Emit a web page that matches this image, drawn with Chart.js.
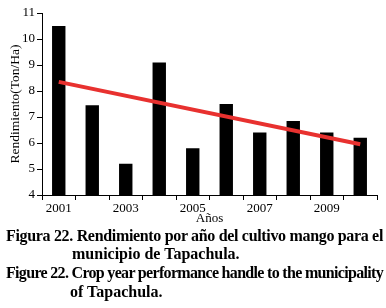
<!DOCTYPE html>
<html><head><meta charset="utf-8">
<script src="https://cdn.jsdelivr.net/npm/chart.js@4/dist/chart.umd.min.js"></script>
<style>
html,body{margin:0;padding:0;background:#fff;width:386px;height:308px;overflow:hidden;}
#wrap{position:absolute;left:0;top:0;width:386px;height:228px;}
.cap{position:absolute;font-family:"Liberation Serif","Times New Roman",serif;font-weight:bold;font-size:16px;color:#000;white-space:nowrap;line-height:18px;}
</style></head>
<body>
<div id="wrap"><canvas id="c" width="386" height="228"></canvas></div>
<div class="cap fit" id="l1" data-w="377" style="left:6px;top:227px;">Figura 22. Rendimiento por año del cultivo mango para el</div>
<div class="cap" id="l2" style="left:72px;top:245px;">municipio de Tapachula.</div>
<div class="cap fit" id="l3" data-w="377" style="left:6px;top:264px;">Figure 22. Crop year performance handle to the municipality</div>
<div class="cap" id="l4" style="left:70px;top:283px;">of Tapachula.</div>
<script>
const years = ["2001","2002","2003","2004","2005","2006","2007","2008","2009","2010"];
const yieldValues = [10.5, 7.45, 5.2, 9.1, 5.8, 7.5, 6.4, 6.85, 6.4, 6.2];
const trendValues = [8.35, null, null, null, null, null, null, null, null, 5.95];
const yTicks = [4,5,6,7,8,9,10,11];

document.querySelectorAll('.fit').forEach(el=>{
  const target = +el.dataset.w;
  const n = el.textContent.length;
  const w = el.getBoundingClientRect().width;
  el.style.letterSpacing = ((target - w) / n) + 'px';
});

const serif = '"Liberation Serif","Times New Roman",serif';
new Chart(document.getElementById('c'), {
  data: {
    labels: years,
    datasets: [
      { type:'line', data: trendValues, borderColor:'#e8312f', borderWidth:4, pointRadius:0, spanGaps:true, tension:0, order:0 },
      { type:'bar', data: yieldValues, backgroundColor:'#000', barPercentage:0.4, categoryPercentage:1.0, order:1 }
    ]
  },
  options: {
    responsive:false, animation:false,
    layout:{ padding:{ top:13, right:9, left:0, bottom:0 } },
    plugins:{ legend:{display:false}, tooltip:{enabled:false} },
    scales:{
      x:{
        grid:{ display:true, drawOnChartArea:false, offset:true, color:'#000', tickLength:5, tickWidth:1 },
        border:{ color:'#000', width:1 },
        ticks:{ color:'#000', font:{family:serif, size:13}, padding:1, maxRotation:0, autoSkip:false,
          callback:function(v,i){ return i % 2 === 0 ? years[i] : ''; } },
        title:{ display:true, text:'Años', color:'#000', font:{family:serif, size:13}, padding:{top:0,bottom:2} },
        afterFit:function(s){ s.height = 33; }
      },
      y:{
        min:4, max:11,
        grid:{ display:true, drawOnChartArea:false, color:'#000', tickLength:5 },
        border:{ color:'#000', width:1 },
        ticks:{ color:'#000', font:{family:serif, size:13}, stepSize:1, padding:2,
          callback:function(v){ return yTicks.includes(v) ? String(v) : ''; } },
        title:{ display:true, text:'Rendimiento(Ton/Ha)', color:'#000', font:{family:serif, size:13.5}, padding:{top:7,bottom:0} },
        afterFit:function(s){ s.width = 42; }
      }
    }
  }
});
</script>
</body></html>
